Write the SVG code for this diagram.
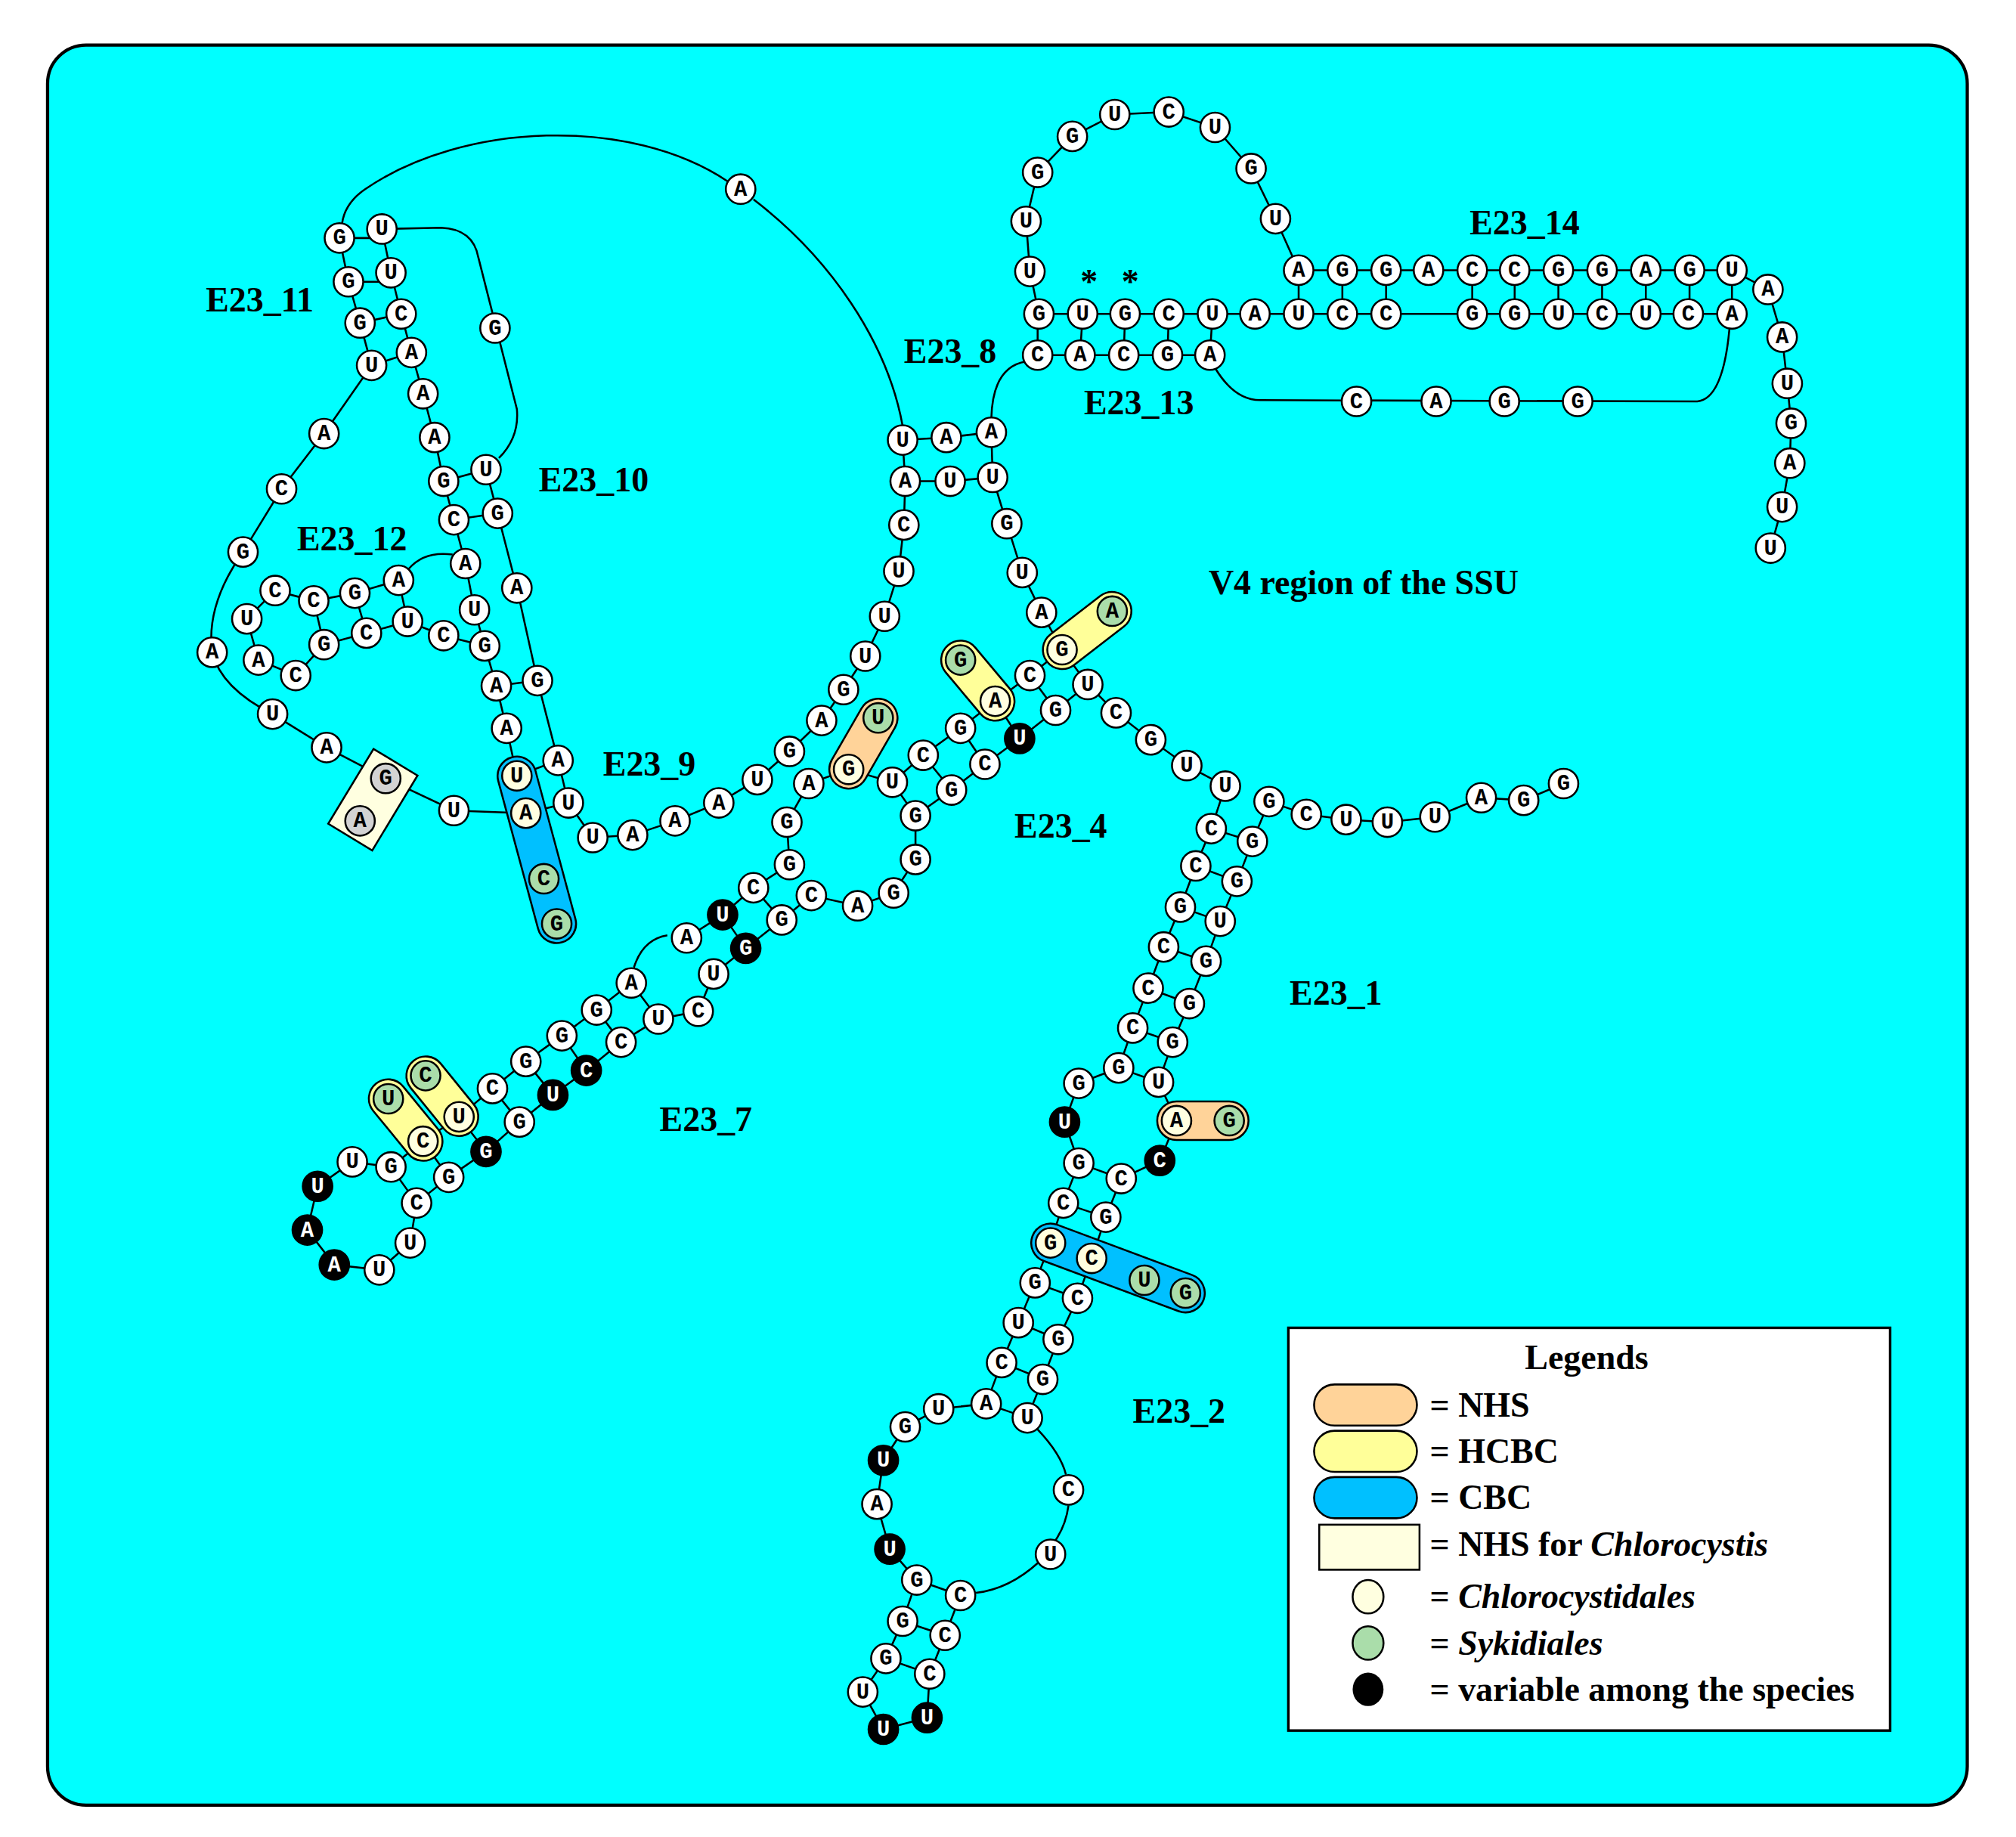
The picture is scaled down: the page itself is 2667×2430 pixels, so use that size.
<svg xmlns="http://www.w3.org/2000/svg" width="2667" height="2430" viewBox="0 0 2667 2430">
<style>
.n circle{fill:#fff;stroke:#000;stroke-width:1.5}
.n text{font-family:"Liberation Mono",monospace;font-weight:bold;font-size:17px;text-anchor:middle;fill:#000}
.y circle{fill:#FFFFE0}.g circle{fill:#AADDAA}.s circle{fill:#D3D3D3}
.k circle{fill:#000}.k text{fill:#fff}
#conn path,#conn polyline,#conn line{fill:none;stroke:#000;stroke-width:1.5}
.lb{font-family:"Liberation Serif",serif;font-weight:bold;font-size:27px;fill:#000}
.pill{stroke:#000;stroke-width:1.5}
.o{fill:#FFD399}.yl{fill:#FFFF99}.b{fill:#00C0FF}
</style>
<g transform="scale(1.701 1.702)">
<rect x="37" y="35" width="1493" height="1368" rx="30" fill="#00FFFF" stroke="#000" stroke-width="2.5"/>
<g id="conn">
<polyline points="252,337 289,284 280,251 271,219 264,185"/>
<path d="M266,174 Q268,158 284,147 C360,95 490,90 566,141"/>
<path d="M586,155 C645,200 690,265 702,331"/>
<polyline points="702,342 704,374 703,408 699,444 688,479 673,510 656,536 639,560 614,584 589,606 559,624 525,638 492,649 461,651 442,624 434,591 418,529 402,457 387,399 378,365"/>
<path d="M388,356 Q404,340 402,318 L372,200 Q368,178 343,177 L297,178"/>
<polyline points="297,178 304,212 312,244 320,274 329,306 338,340 345,374 353,404 362,438 369,474 377,502 386,533 394,566 402,603 409,632 423,683 433,718"/>
<path d="M318,442 Q330,428 352,431"/>
<polyline points="310,451 276,461 244,467 214,459 192,481 201,513 230,525 252,501 285,492 317,483 345,494 377,502"/>
<polyline points="409,632 353,630 300,605 254,581 212,555"/>
<path d="M212,555 Q172,535 165,507 Q160,470 189,429 L219,380 252,337"/>
<line x1="300" y1="605" x2="280" y2="638"/>
<path d="M264,185H297M271,219H304M280,251L312,244M289,284L320,274M345,374L378,365M353,404L387,399M386,533L418,529M402,603L434,591M409,632L442,624M244,467L252,501M276,461L285,492M310,451L317,483"/>
<polyline points="702,342 736,340 771,336"/>
<polyline points="704,374 739,374 772,371"/>
<polyline points="771,336 772,371 783,407 795,445 810,476 826,505 846,532 868,554 895,575 923,595 953,611"/>
<path d="M771,325 Q772,285 798,281"/>
<polyline points="807,276 941,276"/>
<path d="M945,286 Q960,311 980,311 L1320,312 Q1340,310 1345,256"/>
<path d="M807,276V244M840,276L842,244M874,276L875,244M908,276L909,244M941,276L943,244"/>
<polyline points="801,211 808,244 1347,244"/>
<polyline points="992,170 1010,210 1347,210 1375,225 1386,262 1390,298 1393,329 1392,360 1386,394 1377,426"/>
<polyline points="801,211 798,172 807,134 834,106 867,89 909,87 945,99 973,131 992,170"/>
<path d="M1010,210V244M1044,210V244M1078,210V244M1145,210V244M1178,210V244M1212,210V244M1246,210V244M1280,210V244M1314,210V244M1347,210V244"/>
<path d="M826,505L865,475M747,513L774,545"/>
<polyline points="694,608 718,587 747,566 774,545 801,525 826,505"/>
<polyline points="712,634 740,614 766,594 793,574 821,552 846,532"/>
<path d="M718,587L740,614M747,566L766,594M774,545L793,574M801,525L821,552M660,598L683,558"/>
<polyline points="612,639 629,609 660,598 694,608 712,634 712,668 695,694 667,704 631,696 608,715"/>
<polyline points="612,639 614,672 586,690 562,711 534,729"/>
<path d="M519,727 Q500,730 493,752"/>
<polyline points="491,764 464,785 437,805 409,825 383,846 357,868 329,887 304,907 274,903 247,922 239,956 260,983 295,987 319,966 324,935 349,915 378,895 404,872 430,851 456,832 483,810 512,792 543,786 555,757 580,737 608,715"/>
<path d="M608,715L586,690M580,737L562,711M512,792L491,764M483,810L464,785M456,832L437,805M430,851L409,825M404,872L383,846M378,895L357,868M349,915L329,887M324,935L304,907M331,836L357,868M302,854L329,887"/>
<polyline points="987,623 1016,633 1047,637 1079,639 1116,635 1152,620 1185,622 1216,609"/>
<polyline points="953,611 942,644 930,673 918,705 905,736 893,768 881,799 870,830 839,842 828,872 839,904 827,935 817,966 805,997 792,1028 779,1059 767,1091 730,1095 704,1109 687,1135 682,1169 692,1204 713,1228 702,1260 689,1289 671,1315 687,1344 721,1335 723,1301 735,1271 747,1240"/>
<path d="M759,1238 Q785,1235 808,1214"/>
<path d="M821,1197 Q829,1185 831,1170"/>
<path d="M829,1146 Q825,1130 807,1111"/>
<polyline points="799,1102 811,1072 823,1041 838,1009 849,978 860,946 872,916 902,902 915,871 901,841 912,810 925,780 938,747 949,716 962,685 974,654 987,623"/>
<path d="M942,644L974,654M930,673L962,685M918,705L949,716M905,736L938,747M893,768L925,780M881,799L912,810M870,830L901,841M915,871L956,871M839,904L872,916M827,935L860,946M817,966L922,1005M805,997L838,1009M792,1028L823,1041M779,1059L811,1072M767,1091L799,1102M713,1228L747,1240M702,1260L735,1271M689,1289L723,1301"/>
</g>
<g id="pills">
<rect class="pill o" x="633.5" y="563" width="76" height="30" rx="15" transform="rotate(-60 671.5 578)"/>
<rect class="pill yl" x="724.5" y="514" width="72" height="30" rx="15" transform="rotate(50 760.5 529)"/>
<rect class="pill yl" x="806" y="475" width="79" height="30" rx="15" transform="rotate(-37.6 845.5 490)"/>
<rect class="pill o" x="900" y="856" width="71" height="30" rx="15"/>
<rect class="pill b" x="798.5" y="970.5" width="142" height="30" rx="15" transform="rotate(20.4 869.5 985.5)"/>
<rect class="pill b" x="343" y="645.5" width="149" height="30" rx="15" transform="rotate(74.9 417.5 660.5)"/>
<rect class="pill yl" x="308.5" y="837" width="71" height="30" rx="15" transform="rotate(50.9 344 852)"/>
<rect class="pill yl" x="279" y="855.5" width="73" height="30" rx="15" transform="rotate(50.7 315.5 870.5)"/>
<rect class="pill" fill="#FFFFE0" x="256" y="601.5" width="68" height="40" transform="rotate(121.2 290 621.5)"/>
</g>
<g id="nodes">
<g id="n1" class="n"><circle cx="264" cy="185" r="11.5"/><text x="264" y="190">G</text></g>
<g id="n2" class="n"><circle cx="297" cy="178" r="11.5"/><text x="297" y="183">U</text></g>
<g id="n3" class="n"><circle cx="271" cy="219" r="11.5"/><text x="271" y="224">G</text></g>
<g id="n4" class="n"><circle cx="304" cy="212" r="11.5"/><text x="304" y="217">U</text></g>
<g id="n5" class="n"><circle cx="280" cy="251" r="11.5"/><text x="280" y="256">G</text></g>
<g id="n6" class="n"><circle cx="312" cy="244" r="11.5"/><text x="312" y="249">C</text></g>
<g id="n7" class="n"><circle cx="289" cy="284" r="11.5"/><text x="289" y="289">U</text></g>
<g id="n8" class="n"><circle cx="320" cy="274" r="11.5"/><text x="320" y="279">A</text></g>
<g id="n9" class="n"><circle cx="329" cy="306" r="11.5"/><text x="329" y="311">A</text></g>
<g id="n10" class="n"><circle cx="338" cy="340" r="11.5"/><text x="338" y="345">A</text></g>
<g id="n11" class="n"><circle cx="345" cy="374" r="11.5"/><text x="345" y="379">G</text></g>
<g id="n12" class="n"><circle cx="378" cy="365" r="11.5"/><text x="378" y="370">U</text></g>
<g id="n13" class="n"><circle cx="353" cy="404" r="11.5"/><text x="353" y="409">C</text></g>
<g id="n14" class="n"><circle cx="387" cy="399" r="11.5"/><text x="387" y="404">G</text></g>
<g id="n15" class="n"><circle cx="385" cy="255" r="11.5"/><text x="385" y="260">G</text></g>
<g id="n16" class="n"><circle cx="362" cy="438" r="11.5"/><text x="362" y="443">A</text></g>
<g id="n17" class="n"><circle cx="369" cy="474" r="11.5"/><text x="369" y="479">U</text></g>
<g id="n18" class="n"><circle cx="377" cy="502" r="11.5"/><text x="377" y="507">G</text></g>
<g id="n19" class="n"><circle cx="386" cy="533" r="11.5"/><text x="386" y="538">A</text></g>
<g id="n20" class="n"><circle cx="394" cy="566" r="11.5"/><text x="394" y="571">A</text></g>
<g id="n21" class="n y"><circle cx="402" cy="603" r="11.5"/><text x="402" y="608">U</text></g>
<g id="n22" class="n y"><circle cx="409" cy="632" r="11.5"/><text x="409" y="637">A</text></g>
<g id="n23" class="n g"><circle cx="423" cy="683" r="11.5"/><text x="423" y="688">C</text></g>
<g id="n24" class="n g"><circle cx="433" cy="718" r="11.5"/><text x="433" y="723">G</text></g>
<g id="n25" class="n"><circle cx="402" cy="457" r="11.5"/><text x="402" y="462">A</text></g>
<g id="n26" class="n"><circle cx="418" cy="529" r="11.5"/><text x="418" y="534">G</text></g>
<g id="n27" class="n"><circle cx="434" cy="591" r="11.5"/><text x="434" y="596">A</text></g>
<g id="n28" class="n"><circle cx="442" cy="624" r="11.5"/><text x="442" y="629">U</text></g>
<g id="n29" class="n"><circle cx="461" cy="651" r="11.5"/><text x="461" y="656">U</text></g>
<g id="n30" class="n"><circle cx="492" cy="649" r="11.5"/><text x="492" y="654">A</text></g>
<g id="n31" class="n"><circle cx="525" cy="638" r="11.5"/><text x="525" y="643">A</text></g>
<g id="n32" class="n"><circle cx="559" cy="624" r="11.5"/><text x="559" y="629">A</text></g>
<g id="n33" class="n"><circle cx="589" cy="606" r="11.5"/><text x="589" y="611">U</text></g>
<g id="n34" class="n"><circle cx="614" cy="584" r="11.5"/><text x="614" y="589">G</text></g>
<g id="n35" class="n"><circle cx="639" cy="560" r="11.5"/><text x="639" y="565">A</text></g>
<g id="n36" class="n"><circle cx="656" cy="536" r="11.5"/><text x="656" y="541">G</text></g>
<g id="n37" class="n"><circle cx="673" cy="510" r="11.5"/><text x="673" y="515">U</text></g>
<g id="n38" class="n"><circle cx="688" cy="479" r="11.5"/><text x="688" y="484">U</text></g>
<g id="n39" class="n"><circle cx="699" cy="444" r="11.5"/><text x="699" y="449">U</text></g>
<g id="n40" class="n"><circle cx="703" cy="408" r="11.5"/><text x="703" y="413">C</text></g>
<g id="n41" class="n"><circle cx="704" cy="374" r="11.5"/><text x="704" y="379">A</text></g>
<g id="n42" class="n"><circle cx="702" cy="342" r="11.5"/><text x="702" y="347">U</text></g>
<g id="n43" class="n"><circle cx="576" cy="147" r="11.5"/><text x="576" y="152">A</text></g>
<g id="n44" class="n"><circle cx="736" cy="340" r="11.5"/><text x="736" y="345">A</text></g>
<g id="n45" class="n"><circle cx="771" cy="336" r="11.5"/><text x="771" y="341">A</text></g>
<g id="n46" class="n"><circle cx="739" cy="374" r="11.5"/><text x="739" y="379">U</text></g>
<g id="n47" class="n"><circle cx="772" cy="371" r="11.5"/><text x="772" y="376">U</text></g>
<g id="n48" class="n"><circle cx="783" cy="407" r="11.5"/><text x="783" y="412">G</text></g>
<g id="n49" class="n"><circle cx="795" cy="445" r="11.5"/><text x="795" y="450">U</text></g>
<g id="n50" class="n"><circle cx="810" cy="476" r="11.5"/><text x="810" y="481">A</text></g>
<g id="n51" class="n"><circle cx="252" cy="337" r="11.5"/><text x="252" y="342">A</text></g>
<g id="n52" class="n"><circle cx="219" cy="380" r="11.5"/><text x="219" y="385">C</text></g>
<g id="n53" class="n"><circle cx="189" cy="429" r="11.5"/><text x="189" y="434">G</text></g>
<g id="n54" class="n"><circle cx="165" cy="507" r="11.5"/><text x="165" y="512">A</text></g>
<g id="n55" class="n"><circle cx="212" cy="555" r="11.5"/><text x="212" y="560">U</text></g>
<g id="n56" class="n"><circle cx="254" cy="581" r="11.5"/><text x="254" y="586">A</text></g>
<g id="n57" class="n s"><circle cx="300" cy="605" r="11.5"/><text x="300" y="610">G</text></g>
<g id="n58" class="n s"><circle cx="280" cy="638" r="11.5"/><text x="280" y="643">A</text></g>
<g id="n59" class="n"><circle cx="353" cy="630" r="11.5"/><text x="353" y="635">U</text></g>
<g id="n60" class="n"><circle cx="214" cy="459" r="11.5"/><text x="214" y="464">C</text></g>
<g id="n61" class="n"><circle cx="192" cy="481" r="11.5"/><text x="192" y="486">U</text></g>
<g id="n62" class="n"><circle cx="201" cy="513" r="11.5"/><text x="201" y="518">A</text></g>
<g id="n63" class="n"><circle cx="230" cy="525" r="11.5"/><text x="230" y="530">C</text></g>
<g id="n64" class="n"><circle cx="252" cy="501" r="11.5"/><text x="252" y="506">G</text></g>
<g id="n65" class="n"><circle cx="285" cy="492" r="11.5"/><text x="285" y="497">C</text></g>
<g id="n66" class="n"><circle cx="317" cy="483" r="11.5"/><text x="317" y="488">U</text></g>
<g id="n67" class="n"><circle cx="345" cy="494" r="11.5"/><text x="345" y="499">C</text></g>
<g id="n68" class="n"><circle cx="244" cy="467" r="11.5"/><text x="244" y="472">C</text></g>
<g id="n69" class="n"><circle cx="276" cy="461" r="11.5"/><text x="276" y="466">G</text></g>
<g id="n70" class="n"><circle cx="310" cy="451" r="11.5"/><text x="310" y="456">A</text></g>
<g id="n71" class="n"><circle cx="834" cy="106" r="11.5"/><text x="834" y="111">G</text></g>
<g id="n72" class="n"><circle cx="867" cy="89" r="11.5"/><text x="867" y="94">U</text></g>
<g id="n73" class="n"><circle cx="909" cy="87" r="11.5"/><text x="909" y="92">C</text></g>
<g id="n74" class="n"><circle cx="945" cy="99" r="11.5"/><text x="945" y="104">U</text></g>
<g id="n75" class="n"><circle cx="973" cy="131" r="11.5"/><text x="973" y="136">G</text></g>
<g id="n76" class="n"><circle cx="992" cy="170" r="11.5"/><text x="992" y="175">U</text></g>
<g id="n77" class="n"><circle cx="807" cy="134" r="11.5"/><text x="807" y="139">G</text></g>
<g id="n78" class="n"><circle cx="798" cy="172" r="11.5"/><text x="798" y="177">U</text></g>
<g id="n79" class="n"><circle cx="801" cy="211" r="11.5"/><text x="801" y="216">U</text></g>
<g id="n80" class="n"><circle cx="808" cy="244" r="11.5"/><text x="808" y="249">G</text></g>
<g id="n81" class="n"><circle cx="842" cy="244" r="11.5"/><text x="842" y="249">U</text></g>
<g id="n82" class="n"><circle cx="875" cy="244" r="11.5"/><text x="875" y="249">G</text></g>
<g id="n83" class="n"><circle cx="909" cy="244" r="11.5"/><text x="909" y="249">C</text></g>
<g id="n84" class="n"><circle cx="943" cy="244" r="11.5"/><text x="943" y="249">U</text></g>
<g id="n85" class="n"><circle cx="976" cy="244" r="11.5"/><text x="976" y="249">A</text></g>
<g id="n86" class="n"><circle cx="1010" cy="244" r="11.5"/><text x="1010" y="249">U</text></g>
<g id="n87" class="n"><circle cx="1044" cy="244" r="11.5"/><text x="1044" y="249">C</text></g>
<g id="n88" class="n"><circle cx="1078" cy="244" r="11.5"/><text x="1078" y="249">C</text></g>
<g id="n89" class="n"><circle cx="1145" cy="244" r="11.5"/><text x="1145" y="249">G</text></g>
<g id="n90" class="n"><circle cx="1178" cy="244" r="11.5"/><text x="1178" y="249">G</text></g>
<g id="n91" class="n"><circle cx="1212" cy="244" r="11.5"/><text x="1212" y="249">U</text></g>
<g id="n92" class="n"><circle cx="1246" cy="244" r="11.5"/><text x="1246" y="249">C</text></g>
<g id="n93" class="n"><circle cx="1280" cy="244" r="11.5"/><text x="1280" y="249">U</text></g>
<g id="n94" class="n"><circle cx="1313" cy="244" r="11.5"/><text x="1313" y="249">C</text></g>
<g id="n95" class="n"><circle cx="1347" cy="244" r="11.5"/><text x="1347" y="249">A</text></g>
<g id="n96" class="n"><circle cx="1010" cy="210" r="11.5"/><text x="1010" y="215">A</text></g>
<g id="n97" class="n"><circle cx="1044" cy="210" r="11.5"/><text x="1044" y="215">G</text></g>
<g id="n98" class="n"><circle cx="1078" cy="210" r="11.5"/><text x="1078" y="215">G</text></g>
<g id="n99" class="n"><circle cx="1111" cy="210" r="11.5"/><text x="1111" y="215">A</text></g>
<g id="n100" class="n"><circle cx="1145" cy="210" r="11.5"/><text x="1145" y="215">C</text></g>
<g id="n101" class="n"><circle cx="1178" cy="210" r="11.5"/><text x="1178" y="215">C</text></g>
<g id="n102" class="n"><circle cx="1212" cy="210" r="11.5"/><text x="1212" y="215">G</text></g>
<g id="n103" class="n"><circle cx="1246" cy="210" r="11.5"/><text x="1246" y="215">G</text></g>
<g id="n104" class="n"><circle cx="1280" cy="210" r="11.5"/><text x="1280" y="215">A</text></g>
<g id="n105" class="n"><circle cx="1314" cy="210" r="11.5"/><text x="1314" y="215">G</text></g>
<g id="n106" class="n"><circle cx="1347" cy="210" r="11.5"/><text x="1347" y="215">U</text></g>
<g id="n107" class="n"><circle cx="1375" cy="225" r="11.5"/><text x="1375" y="230">A</text></g>
<g id="n108" class="n"><circle cx="1386" cy="262" r="11.5"/><text x="1386" y="267">A</text></g>
<g id="n109" class="n"><circle cx="1390" cy="298" r="11.5"/><text x="1390" y="303">U</text></g>
<g id="n110" class="n"><circle cx="1393" cy="329" r="11.5"/><text x="1393" y="334">G</text></g>
<g id="n111" class="n"><circle cx="1392" cy="360" r="11.5"/><text x="1392" y="365">A</text></g>
<g id="n112" class="n"><circle cx="1386" cy="394" r="11.5"/><text x="1386" y="399">U</text></g>
<g id="n113" class="n"><circle cx="1377" cy="426" r="11.5"/><text x="1377" y="431">U</text></g>
<g id="n114" class="n"><circle cx="807" cy="276" r="11.5"/><text x="807" y="281">C</text></g>
<g id="n115" class="n"><circle cx="840" cy="276" r="11.5"/><text x="840" y="281">A</text></g>
<g id="n116" class="n"><circle cx="874" cy="276" r="11.5"/><text x="874" y="281">C</text></g>
<g id="n117" class="n"><circle cx="908" cy="276" r="11.5"/><text x="908" y="281">G</text></g>
<g id="n118" class="n"><circle cx="941" cy="276" r="11.5"/><text x="941" y="281">A</text></g>
<g id="n119" class="n"><circle cx="1055" cy="312" r="11.5"/><text x="1055" y="317">C</text></g>
<g id="n120" class="n"><circle cx="1117" cy="312" r="11.5"/><text x="1117" y="317">A</text></g>
<g id="n121" class="n"><circle cx="1170" cy="312" r="11.5"/><text x="1170" y="317">G</text></g>
<g id="n122" class="n"><circle cx="1227" cy="312" r="11.5"/><text x="1227" y="317">G</text></g>
<g id="n123" class="n y"><circle cx="826" cy="505" r="11.5"/><text x="826" y="510">G</text></g>
<g id="n124" class="n g"><circle cx="865" cy="475" r="11.5"/><text x="865" y="480">A</text></g>
<g id="n125" class="n g"><circle cx="747" cy="513" r="11.5"/><text x="747" y="518">G</text></g>
<g id="n126" class="n y"><circle cx="774" cy="545" r="11.5"/><text x="774" y="550">A</text></g>
<g id="n127" class="n"><circle cx="801" cy="525" r="11.5"/><text x="801" y="530">C</text></g>
<g id="n128" class="n"><circle cx="846" cy="532" r="11.5"/><text x="846" y="537">U</text></g>
<g id="n129" class="n"><circle cx="821" cy="552" r="11.5"/><text x="821" y="557">G</text></g>
<g id="n130" class="n k"><circle cx="793" cy="574" r="11.5"/><text x="793" y="579">U</text></g>
<g id="n131" class="n"><circle cx="868" cy="554" r="11.5"/><text x="868" y="559">C</text></g>
<g id="n132" class="n"><circle cx="895" cy="575" r="11.5"/><text x="895" y="580">G</text></g>
<g id="n133" class="n"><circle cx="923" cy="595" r="11.5"/><text x="923" y="600">U</text></g>
<g id="n134" class="n"><circle cx="953" cy="611" r="11.5"/><text x="953" y="616">U</text></g>
<g id="n135" class="n"><circle cx="987" cy="623" r="11.5"/><text x="987" y="628">G</text></g>
<g id="n136" class="n"><circle cx="1016" cy="633" r="11.5"/><text x="1016" y="638">C</text></g>
<g id="n137" class="n"><circle cx="1047" cy="637" r="11.5"/><text x="1047" y="642">U</text></g>
<g id="n138" class="n"><circle cx="1079" cy="639" r="11.5"/><text x="1079" y="644">U</text></g>
<g id="n139" class="n"><circle cx="1116" cy="635" r="11.5"/><text x="1116" y="640">U</text></g>
<g id="n140" class="n"><circle cx="1152" cy="620" r="11.5"/><text x="1152" y="625">A</text></g>
<g id="n141" class="n"><circle cx="1185" cy="622" r="11.5"/><text x="1185" y="627">G</text></g>
<g id="n142" class="n"><circle cx="1216" cy="609" r="11.5"/><text x="1216" y="614">G</text></g>
<g id="n143" class="n"><circle cx="747" cy="566" r="11.5"/><text x="747" y="571">G</text></g>
<g id="n144" class="n"><circle cx="718" cy="587" r="11.5"/><text x="718" y="592">C</text></g>
<g id="n145" class="n"><circle cx="740" cy="614" r="11.5"/><text x="740" y="619">G</text></g>
<g id="n146" class="n"><circle cx="766" cy="594" r="11.5"/><text x="766" y="599">C</text></g>
<g id="n147" class="n"><circle cx="694" cy="608" r="11.5"/><text x="694" y="613">U</text></g>
<g id="n148" class="n y"><circle cx="660" cy="598" r="11.5"/><text x="660" y="603">G</text></g>
<g id="n149" class="n g"><circle cx="683" cy="558" r="11.5"/><text x="683" y="563">U</text></g>
<g id="n150" class="n"><circle cx="712" cy="634" r="11.5"/><text x="712" y="639">G</text></g>
<g id="n151" class="n"><circle cx="712" cy="668" r="11.5"/><text x="712" y="673">G</text></g>
<g id="n152" class="n"><circle cx="695" cy="694" r="11.5"/><text x="695" y="699">G</text></g>
<g id="n153" class="n"><circle cx="667" cy="704" r="11.5"/><text x="667" y="709">A</text></g>
<g id="n154" class="n"><circle cx="631" cy="696" r="11.5"/><text x="631" y="701">C</text></g>
<g id="n155" class="n"><circle cx="608" cy="715" r="11.5"/><text x="608" y="720">G</text></g>
<g id="n156" class="n"><circle cx="629" cy="609" r="11.5"/><text x="629" y="614">A</text></g>
<g id="n157" class="n"><circle cx="612" cy="639" r="11.5"/><text x="612" y="644">G</text></g>
<g id="n158" class="n"><circle cx="614" cy="672" r="11.5"/><text x="614" y="677">G</text></g>
<g id="n159" class="n"><circle cx="586" cy="690" r="11.5"/><text x="586" y="695">C</text></g>
<g id="n160" class="n k"><circle cx="562" cy="711" r="11.5"/><text x="562" y="716">U</text></g>
<g id="n161" class="n k"><circle cx="580" cy="737" r="11.5"/><text x="580" y="742">G</text></g>
<g id="n162" class="n"><circle cx="534" cy="729" r="11.5"/><text x="534" y="734">A</text></g>
<g id="n163" class="n"><circle cx="555" cy="757" r="11.5"/><text x="555" y="762">U</text></g>
<g id="n164" class="n"><circle cx="543" cy="786" r="11.5"/><text x="543" y="791">C</text></g>
<g id="n165" class="n"><circle cx="491" cy="764" r="11.5"/><text x="491" y="769">A</text></g>
<g id="n166" class="n"><circle cx="464" cy="785" r="11.5"/><text x="464" y="790">G</text></g>
<g id="n167" class="n"><circle cx="512" cy="792" r="11.5"/><text x="512" y="797">U</text></g>
<g id="n168" class="n"><circle cx="483" cy="810" r="11.5"/><text x="483" y="815">C</text></g>
<g id="n169" class="n"><circle cx="437" cy="805" r="11.5"/><text x="437" y="810">G</text></g>
<g id="n170" class="n k"><circle cx="456" cy="832" r="11.5"/><text x="456" y="837">C</text></g>
<g id="n171" class="n"><circle cx="409" cy="825" r="11.5"/><text x="409" y="830">G</text></g>
<g id="n172" class="n k"><circle cx="430" cy="851" r="11.5"/><text x="430" y="856">U</text></g>
<g id="n173" class="n"><circle cx="383" cy="846" r="11.5"/><text x="383" y="851">C</text></g>
<g id="n174" class="n"><circle cx="404" cy="872" r="11.5"/><text x="404" y="877">G</text></g>
<g id="n175" class="n g"><circle cx="331" cy="836" r="11.5"/><text x="331" y="841">C</text></g>
<g id="n176" class="n y"><circle cx="357" cy="868" r="11.5"/><text x="357" y="873">U</text></g>
<g id="n177" class="n g"><circle cx="302" cy="854" r="11.5"/><text x="302" y="859">U</text></g>
<g id="n178" class="n y"><circle cx="329" cy="887" r="11.5"/><text x="329" y="892">C</text></g>
<g id="n179" class="n k"><circle cx="378" cy="895" r="11.5"/><text x="378" y="900">G</text></g>
<g id="n180" class="n"><circle cx="349" cy="915" r="11.5"/><text x="349" y="920">G</text></g>
<g id="n181" class="n"><circle cx="304" cy="907" r="11.5"/><text x="304" y="912">G</text></g>
<g id="n182" class="n"><circle cx="274" cy="903" r="11.5"/><text x="274" y="908">U</text></g>
<g id="n183" class="n k"><circle cx="247" cy="922" r="11.5"/><text x="247" y="927">U</text></g>
<g id="n184" class="n"><circle cx="324" cy="935" r="11.5"/><text x="324" y="940">C</text></g>
<g id="n185" class="n k"><circle cx="239" cy="956" r="11.5"/><text x="239" y="961">A</text></g>
<g id="n186" class="n"><circle cx="319" cy="966" r="11.5"/><text x="319" y="971">U</text></g>
<g id="n187" class="n k"><circle cx="260" cy="983" r="11.5"/><text x="260" y="988">A</text></g>
<g id="n188" class="n"><circle cx="295" cy="987" r="11.5"/><text x="295" y="992">U</text></g>
<g id="n189" class="n"><circle cx="942" cy="644" r="11.5"/><text x="942" y="649">C</text></g>
<g id="n190" class="n"><circle cx="974" cy="654" r="11.5"/><text x="974" y="659">G</text></g>
<g id="n191" class="n"><circle cx="930" cy="673" r="11.5"/><text x="930" y="678">C</text></g>
<g id="n192" class="n"><circle cx="962" cy="685" r="11.5"/><text x="962" y="690">G</text></g>
<g id="n193" class="n"><circle cx="918" cy="705" r="11.5"/><text x="918" y="710">G</text></g>
<g id="n194" class="n"><circle cx="949" cy="716" r="11.5"/><text x="949" y="721">U</text></g>
<g id="n195" class="n"><circle cx="905" cy="736" r="11.5"/><text x="905" y="741">C</text></g>
<g id="n196" class="n"><circle cx="938" cy="747" r="11.5"/><text x="938" y="752">G</text></g>
<g id="n197" class="n"><circle cx="893" cy="768" r="11.5"/><text x="893" y="773">C</text></g>
<g id="n198" class="n"><circle cx="925" cy="780" r="11.5"/><text x="925" y="785">G</text></g>
<g id="n199" class="n"><circle cx="881" cy="799" r="11.5"/><text x="881" y="804">C</text></g>
<g id="n200" class="n"><circle cx="912" cy="810" r="11.5"/><text x="912" y="815">G</text></g>
<g id="n201" class="n"><circle cx="870" cy="830" r="11.5"/><text x="870" y="835">G</text></g>
<g id="n202" class="n"><circle cx="901" cy="841" r="11.5"/><text x="901" y="846">U</text></g>
<g id="n203" class="n"><circle cx="839" cy="842" r="11.5"/><text x="839" y="847">G</text></g>
<g id="n204" class="n k"><circle cx="828" cy="872" r="11.5"/><text x="828" y="877">U</text></g>
<g id="n205" class="n y"><circle cx="915" cy="871" r="11.5"/><text x="915" y="876">A</text></g>
<g id="n206" class="n g"><circle cx="956" cy="871" r="11.5"/><text x="956" y="876">G</text></g>
<g id="n207" class="n k"><circle cx="902" cy="902" r="11.5"/><text x="902" y="907">C</text></g>
<g id="n208" class="n"><circle cx="839" cy="904" r="11.5"/><text x="839" y="909">G</text></g>
<g id="n209" class="n"><circle cx="872" cy="916" r="11.5"/><text x="872" y="921">C</text></g>
<g id="n210" class="n"><circle cx="827" cy="935" r="11.5"/><text x="827" y="940">C</text></g>
<g id="n211" class="n"><circle cx="860" cy="946" r="11.5"/><text x="860" y="951">G</text></g>
<g id="n212" class="n y"><circle cx="817" cy="966" r="11.5"/><text x="817" y="971">G</text></g>
<g id="n213" class="n y"><circle cx="849" cy="978" r="11.5"/><text x="849" y="983">C</text></g>
<g id="n214" class="n g"><circle cx="890" cy="995" r="11.5"/><text x="890" y="1000">U</text></g>
<g id="n215" class="n g"><circle cx="922" cy="1005" r="11.5"/><text x="922" y="1010">G</text></g>
<g id="n216" class="n"><circle cx="805" cy="997" r="11.5"/><text x="805" y="1002">G</text></g>
<g id="n217" class="n"><circle cx="838" cy="1009" r="11.5"/><text x="838" y="1014">C</text></g>
<g id="n218" class="n"><circle cx="792" cy="1028" r="11.5"/><text x="792" y="1033">U</text></g>
<g id="n219" class="n"><circle cx="823" cy="1041" r="11.5"/><text x="823" y="1046">G</text></g>
<g id="n220" class="n"><circle cx="779" cy="1059" r="11.5"/><text x="779" y="1064">C</text></g>
<g id="n221" class="n"><circle cx="811" cy="1072" r="11.5"/><text x="811" y="1077">G</text></g>
<g id="n222" class="n"><circle cx="767" cy="1091" r="11.5"/><text x="767" y="1096">A</text></g>
<g id="n223" class="n"><circle cx="799" cy="1102" r="11.5"/><text x="799" y="1107">U</text></g>
<g id="n224" class="n"><circle cx="730" cy="1095" r="11.5"/><text x="730" y="1100">U</text></g>
<g id="n225" class="n"><circle cx="704" cy="1109" r="11.5"/><text x="704" y="1114">G</text></g>
<g id="n226" class="n k"><circle cx="687" cy="1135" r="11.5"/><text x="687" y="1140">U</text></g>
<g id="n227" class="n"><circle cx="682" cy="1169" r="11.5"/><text x="682" y="1174">A</text></g>
<g id="n228" class="n k"><circle cx="692" cy="1204" r="11.5"/><text x="692" y="1209">U</text></g>
<g id="n229" class="n"><circle cx="713" cy="1228" r="11.5"/><text x="713" y="1233">G</text></g>
<g id="n230" class="n"><circle cx="747" cy="1240" r="11.5"/><text x="747" y="1245">C</text></g>
<g id="n231" class="n"><circle cx="831" cy="1158" r="11.5"/><text x="831" y="1163">C</text></g>
<g id="n232" class="n"><circle cx="817" cy="1208" r="11.5"/><text x="817" y="1213">U</text></g>
<g id="n233" class="n"><circle cx="702" cy="1260" r="11.5"/><text x="702" y="1265">G</text></g>
<g id="n234" class="n"><circle cx="735" cy="1271" r="11.5"/><text x="735" y="1276">C</text></g>
<g id="n235" class="n"><circle cx="689" cy="1289" r="11.5"/><text x="689" y="1294">G</text></g>
<g id="n236" class="n"><circle cx="723" cy="1301" r="11.5"/><text x="723" y="1306">C</text></g>
<g id="n237" class="n"><circle cx="671" cy="1315" r="11.5"/><text x="671" y="1320">U</text></g>
<g id="n238" class="n k"><circle cx="687" cy="1344" r="11.5"/><text x="687" y="1349">U</text></g>
<g id="n239" class="n k"><circle cx="721" cy="1335" r="11.5"/><text x="721" y="1340">U</text></g>
</g>
<g id="labels">
<text class="lb" x="160" y="242">E23_11</text>
<text class="lb" x="419" y="382">E23_10</text>
<text class="lb" x="231" y="428">E23_12</text>
<text class="lb" x="469" y="603">E23_9</text>
<text class="lb" x="703" y="282">E23_8</text>
<text class="lb" x="843" y="322">E23_13</text>
<text class="lb" x="1143" y="182">E23_14</text>
<text class="lb" x="789" y="651">E23_4</text>
<text class="lb" x="1003" y="781">E23_1</text>
<text class="lb" x="513" y="879">E23_7</text>
<text class="lb" x="881" y="1106">E23_2</text>
<text class="lb" x="847" y="228" text-anchor="middle" font-size="20">*</text>
<text class="lb" x="879" y="228" text-anchor="middle" font-size="20">*</text>
<text class="lb" x="940" y="462" font-size="42">V4 region of the SSU</text>
</g>
<g id="legend">
<rect x="1002" y="1032" width="468" height="313" fill="#fff" stroke="#000" stroke-width="2"/>
<text class="lb" x="1234" y="1064" text-anchor="middle">Legends</text>
<rect class="pill o" x="1022" y="1076" width="80" height="32" rx="16"/>
<rect class="pill yl" x="1022" y="1112" width="80" height="32" rx="16"/>
<rect class="pill b" x="1022" y="1148" width="80" height="32" rx="16"/>
<rect class="pill" fill="#FFFFE0" x="1026" y="1185" width="78" height="35"/>
<ellipse cx="1064" cy="1241" rx="12" ry="13" fill="#FFFFE0" stroke="#000" stroke-width="1.5"/>
<ellipse cx="1064" cy="1277" rx="12" ry="13" fill="#AADDAA" stroke="#000" stroke-width="1.5"/>
<ellipse cx="1064" cy="1313" rx="12" ry="13" fill="#000"/>
<text class="lb" x="1112" y="1101">= NHS</text>
<text class="lb" x="1112" y="1137">= HCBC</text>
<text class="lb" x="1112" y="1173">= CBC</text>
<text class="lb" x="1112" y="1209">= NHS for <tspan font-style="italic">Chlorocystis</tspan></text>
<text class="lb" x="1112" y="1250">= <tspan font-style="italic">Chlorocystidales</tspan></text>
<text class="lb" x="1112" y="1286">= <tspan font-style="italic">Sykidiales</tspan></text>
<text class="lb" x="1112" y="1322">= variable among the species</text>
</g>
</g>
</svg>
